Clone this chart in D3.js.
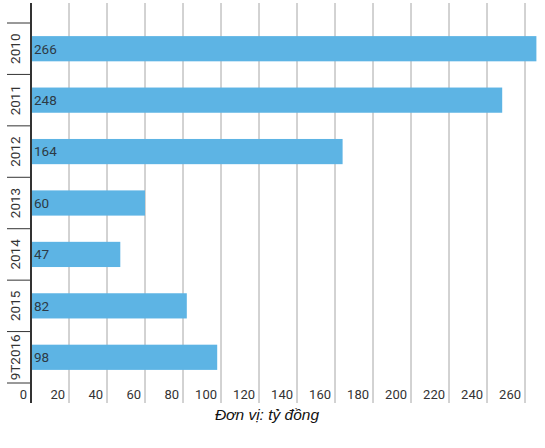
<!DOCTYPE html>
<html lang="vi">
<head>
<meta charset="UTF-8">
<title>Đơn vị: tỷ đồng</title>
<script src="https://d3js.org/d3.v7.min.js"></script>
<style>
  body { margin: 0; background: #fff; }
</style>
</head>
<body>
<div id="chart"></div>
<script>
// data
const years = ["2010", "2011", "2012", "2013", "2014", "2015", "9T2016"];
const values = [266, 248, 164, 60, 47, 82, 98];
const xTicks = [0, 20, 40, 60, 80, 100, 120, 140, 160, 180, 200, 220, 240, 260];
const unitLabel = "Đơn vị: tỷ đồng";

const width = 545, height = 448;

const svg = d3.select("#chart")
    .append("svg")
    .attr("width", width)
    .attr("height", height);

const x = d3.scaleLinear()
    .domain([0, 260])
    .range([31, 525]);

const y = d3.scaleBand()
    .domain(years)
    .range([23, 383])
    .paddingInner(0.51)
    .paddingOuter(0.255);

// vertical grid lines
svg.append("g")
    .selectAll("line")
    .data(xTicks.slice(1))
    .join("line")
    .attr("x1", d => x(d)).attr("x2", d => x(d))
    .attr("y1", 3).attr("y2", 403)
    .attr("stroke", "#a6a6a6")
    .attr("stroke-width", 1);

// category separators on the left
const bounds = years.map(d => y(d) - y.step() * y.paddingInner() / 2);
bounds.push(383);
svg.append("g")
    .selectAll("line")
    .data(bounds)
    .join("line")
    .attr("x1", 7).attr("x2", 31)
    .attr("y1", d => d).attr("y2", d => d)
    .attr("stroke", "#333")
    .attr("stroke-width", 1);

// bars
svg.append("g")
    .selectAll("rect")
    .data(values)
    .join("rect")
    .attr("x", x(0))
    .attr("y", (d, i) => y(years[i]))
    .attr("width", d => x(d) - x(0))
    .attr("height", y.bandwidth())
    .attr("fill", "#5db4e4");

// value labels inside bars
svg.append("g")
    .selectAll("text")
    .data(values)
    .join("text")
    .attr("x", x(0) + 3)
    .attr("y", (d, i) => y(years[i]) + y.bandwidth() / 2)
    .attr("dy", "0.36em")
    .attr("font-family", "Roboto, sans-serif")
    .attr("font-size", 13.5)
    .attr("fill", "#2d3a45")
    .text(d => d);

// year labels, rotated
svg.append("g")
    .selectAll("text")
    .data(years)
    .join("text")
    .attr("transform", d => `translate(15,${y(d) + y.bandwidth() / 2}) rotate(-90)`)
    .attr("text-anchor", "middle")
    .attr("dy", "0.36em")
    .attr("font-family", "Roboto, sans-serif")
    .attr("font-size", 13.5)
    .attr("fill", "#333")
    .text(d => d);

// main axis line
svg.append("line")
    .attr("x1", x(0)).attr("x2", x(0))
    .attr("y1", 3).attr("y2", 403)
    .attr("stroke", "#333")
    .attr("stroke-width", 2);

// x tick labels, placed just left of each grid line
svg.append("g")
    .selectAll("text")
    .data(xTicks)
    .join("text")
    .attr("x", d => x(d) - 4)
    .attr("y", 394)
    .attr("dy", "0.36em")
    .attr("text-anchor", "end")
    .attr("font-family", "Roboto, sans-serif")
    .attr("font-size", 13)
    .attr("fill", "#333")
    .text(d => d);

// unit caption
svg.append("text")
    .attr("x", 267)
    .attr("y", 420)
    .attr("text-anchor", "middle")
    .attr("font-family", "Liberation Sans, Arial, sans-serif")
    .attr("font-style", "italic")
    .attr("font-size", 15.5)
    .attr("fill", "#111")
    .text(unitLabel);
</script>
</body>
</html>
